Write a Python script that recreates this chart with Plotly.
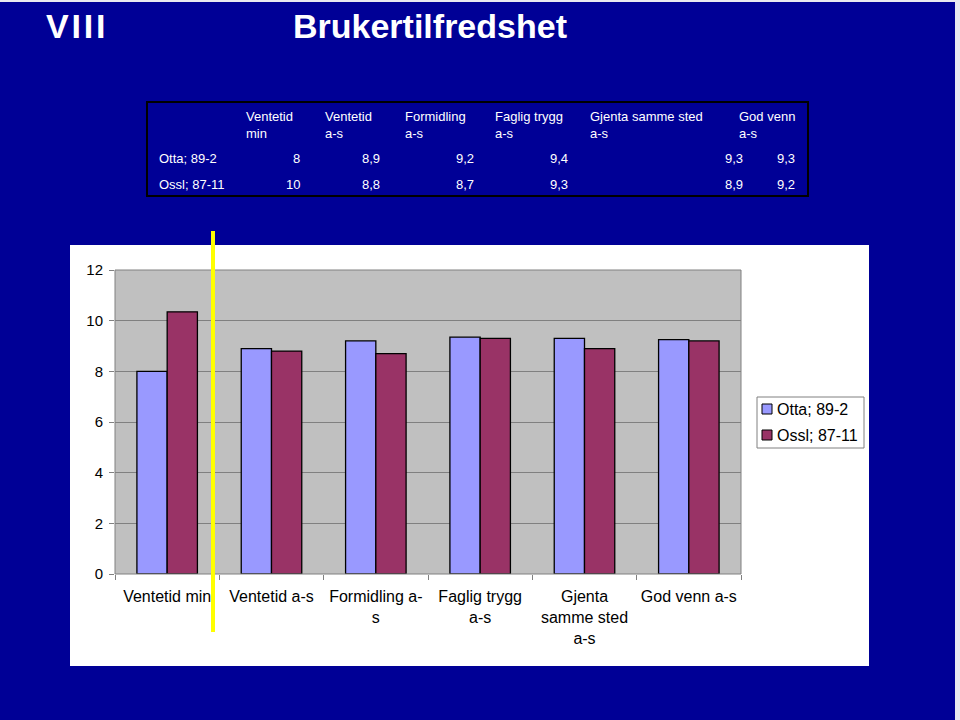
import plotly.graph_objects as go

W, H = 960, 720

categories = ["Ventetid min", "Ventetid a-s", "Formidling a-<br>s", "Faglig trygg<br>a-s",
              "Gjenta<br>samme sted<br>a-s", "God venn a-s"]
series_names = ["Otta; 89-2", "Ossl; 87-11"]
otta_values = [8.0, 8.9, 9.2, 9.35, 9.3, 9.25]
ossl_values = [10.35, 8.8, 8.7, 9.3, 8.9, 9.2]

table_headers = [("Ventetid", "min"), ("Ventetid", "a-s"), ("Formidling", "a-s"),
                 ("Faglig trygg", "a-s"), ("Gjenta samme sted", "a-s"), ("God venn", "a-s")]
table_otta = ["8", "8,9", "9,2", "9,4", "9,3", "9,3"]
table_ossl = ["10", "8,8", "8,7", "9,3", "8,9", "9,2"]

y_ticks = [0, 2, 4, 6, 8, 10, 12]

BLUE = "#000096"
C_OTTA = "#9999FF"
C_OSSL = "#993366"
colors = [C_OTTA, C_OSSL]

def px(x):
    return x / W

def py(y):
    return 1 - y / H

fig = go.Figure()
for name, vals, col in zip(series_names, [otta_values, ossl_values], colors):
    fig.add_trace(go.Bar(x=categories, y=vals, name=name,
                         marker=dict(color=col, line=dict(color="black", width=1.3))))

shapes = []
# white chart panel
shapes.append(dict(type="rect", xref="paper", yref="paper", x0=px(70), x1=px(869),
                   y0=py(666), y1=py(245), fillcolor="white", line=dict(width=0), layer="below"))
# plot area
shapes.append(dict(type="rect", xref="paper", yref="paper", x0=px(115), x1=px(741),
                   y0=py(574), y1=py(270), fillcolor="#C0C0C0", line=dict(width=0), layer="below"))
shapes.append(dict(type="rect", xref="paper", yref="paper", x0=px(115), x1=px(741),
                   y0=py(574), y1=py(270), line=dict(color="#808080", width=1), layer="above"))
# table box
shapes.append(dict(type="rect", xref="paper", yref="paper", x0=px(147), x1=px(808),
                   y0=py(196), y1=py(102), line=dict(color="black", width=2)))
# yellow line
shapes.append(dict(type="line", xref="paper", yref="paper", x0=px(213), x1=px(213),
                   y0=py(231), y1=py(632), line=dict(color="#FFFF00", width=4)))
# light edges
shapes.append(dict(type="rect", xref="paper", yref="paper", x0=0, x1=1, y0=py(2), y1=1,
                   fillcolor="#E8E8F0", line=dict(width=0)))
shapes.append(dict(type="rect", xref="paper", yref="paper", x0=px(955), x1=1, y0=0, y1=1,
                   fillcolor="#E8E8F0", line=dict(width=0)))
# legend box
shapes.append(dict(type="rect", xref="paper", yref="paper", x0=px(757), x1=px(864),
                   y0=py(448), y1=py(397), fillcolor="white", line=dict(color="#808080", width=1)))
legend_rows = [409, 435]
for col, yy in zip(colors, legend_rows):
    shapes.append(dict(type="rect", xref="paper", yref="paper", x0=px(762), x1=px(772),
                       y0=py(yy + 5), y1=py(yy - 5), fillcolor=col,
                       line=dict(color="black", width=1)))

ann = []
title_font = dict(family="Liberation Sans, Arial", size=34, color="white")
ann.append(dict(text="<b>V\u200aI\u200aI\u200aI</b>", x=px(44), y=py(26), xref="paper", yref="paper",
                xanchor="left", yanchor="middle", showarrow=False, font=title_font))
ann.append(dict(text="<b>Brukertilfredshet</b>", x=px(291), y=py(26), xref="paper", yref="paper",
                xanchor="left", yanchor="middle", showarrow=False, font=title_font))

tf = dict(family="Liberation Sans, Arial", size=13, color="white")
header_x = [244, 323, 403, 493, 588, 737]
value_right = [302, 382, 476, 570, 745, 797]
for (l1, l2), hx in zip(table_headers, header_x):
    ann.append(dict(text=l1, x=px(hx), y=py(117), xref="paper", yref="paper", xanchor="left",
                    yanchor="middle", showarrow=False, font=tf))
    ann.append(dict(text=l2, x=px(hx), y=py(133), xref="paper", yref="paper", xanchor="left",
                    yanchor="middle", showarrow=False, font=tf))
for name, vals, yy in [(series_names[0], table_otta, 158), (series_names[1], table_ossl, 184)]:
    ann.append(dict(text=name, x=px(157), y=py(yy), xref="paper", yref="paper", xanchor="left",
                    yanchor="middle", showarrow=False, font=tf))
    for v, rx in zip(vals, value_right):
        ann.append(dict(text=v, x=px(rx), y=py(yy), xref="paper", yref="paper", xanchor="right",
                        yanchor="middle", showarrow=False, font=tf))

lf = dict(family="Liberation Sans, Arial", size=16, color="black")
for name, yy in zip(series_names, legend_rows):
    ann.append(dict(text=name, x=px(775), y=py(yy), xref="paper", yref="paper", xanchor="left",
                    yanchor="middle", showarrow=False, font=lf))

axis_font = dict(family="Liberation Sans, Arial", size=15, color="black")
cat_font = dict(family="Liberation Sans, Arial", size=16, color="black")
fig.update_layout(
    width=W, height=H,
    margin=dict(l=0, r=0, t=0, b=0, autoexpand=False),
    paper_bgcolor=BLUE, plot_bgcolor="rgba(0,0,0,0)",
    barmode="group", bargap=0.42, bargroupgap=0,
    shapes=shapes, annotations=ann,
    showlegend=False,
    xaxis=dict(domain=[px(115), px(741)], tickson="boundaries", ticks="outside",
               ticklen=5, tickcolor="#808080", tickfont=cat_font, showgrid=False,
               showline=False, fixedrange=True, automargin=False, ticklabelstandoff=11,
               tickangle=0),
    yaxis=dict(domain=[py(574), py(270)], range=[0, 12], tickvals=y_ticks,
               ticks="outside", ticklen=5, tickcolor="#808080", tickfont=axis_font,
               showgrid=True, gridcolor="#808080", gridwidth=1, zeroline=False,
               ticklabelstandoff=3, fixedrange=True, automargin=False),
)

fig.write_html("out.html", config={"displayModeBar": False},
               post_script="document.body.style.margin='0';document.body.style.overflow='hidden';")
